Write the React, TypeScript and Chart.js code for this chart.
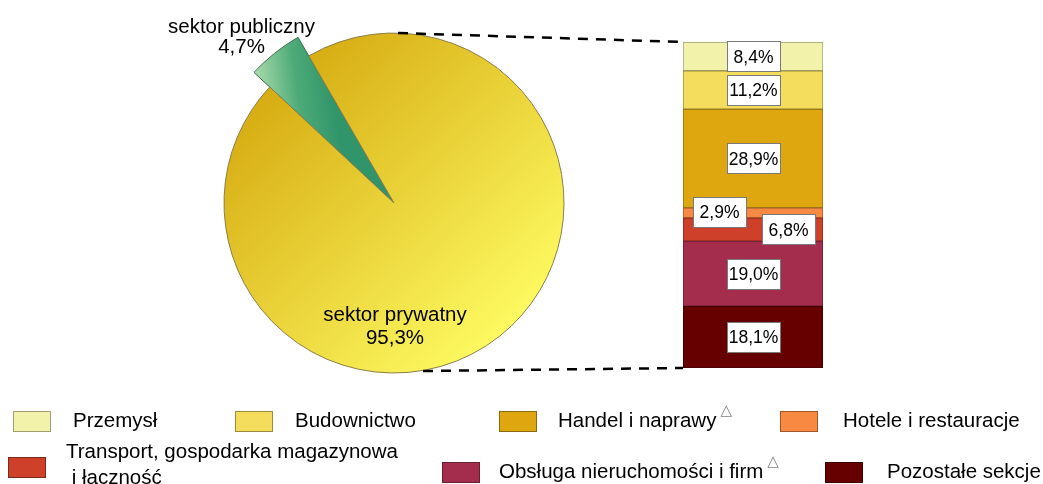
import React, { useEffect, useRef } from 'react';
import { Chart, registerables } from 'chart.js';

Chart.register(...registerables);

// ---------- data ----------
const SECTORS = ['sektor publiczny', 'sektor prywatny'];
const SECTOR_SHARES = [4.7, 95.3];

const CATEGORIES = [
  'Przemysł',
  'Budownictwo',
  'Handel i naprawy',
  'Hotele i restauracje',
  'Transport, gospodarka magazynowa\n i łączność',
  'Obsługa nieruchomości i firm',
  'Pozostałe sekcje',
];
const CATEGORY_SHARES = [8.4, 11.2, 28.9, 2.9, 6.8, 19.0, 18.1];
const CATEGORY_MARKED = [false, false, true, false, false, true, false];

// ---------- style ----------
const FONT = '"Liberation Sans", Arial, Helvetica, sans-serif';
const CATEGORY_COLORS = ['#F2F2AA', '#F4DC5C', '#DEA60F', '#F88942', '#CF402B', '#A42D4E', '#660000'];
const CATEGORY_BORDERS = ['#9E9E72', '#9C8A3A', '#8A6A10', '#A0582A', '#7A2A1A', '#6A1E32', '#3A0000'];
const LABEL_OFFSETS = [[0, 0], [0, 0], [0, 0], [-34, -1], [35, 0], [0, 0], [0, 0]];

const PIE_CX = 394;
const PIE_CY = 203;
const PIE_BOX = 384; // chart area size -> max radius ~191.5
const PRIVATE_R = 170;
const PIE_ROTATION = -47;
const PIE_CANVAS = { left: 150, top: 0, width: 500, height: 406 };
const PIE_PAD = {
  left: PIE_CX - PIE_BOX / 2 - PIE_CANVAS.left,
  top: PIE_CY - PIE_BOX / 2 - PIE_CANVAS.top,
  right: PIE_CANVAS.left + PIE_CANVAS.width - (PIE_CX + PIE_BOX / 2),
  bottom: PIE_CANVAS.top + PIE_CANVAS.height - (PIE_CY + PIE_BOX / 2),
};

const BAR_CANVAS = { left: 380, top: 0, width: 463, height: 390 };
const BAR_PAD = { left: 303, top: 42, right: 20, bottom: 22 };

const LEGEND_LAYOUT = [
  { sx: 13, sy: 411, tx: 73, ty: 410 },
  { sx: 235, sy: 411, tx: 295, ty: 410 },
  { sx: 499, sy: 411, tx: 558, ty: 410 },
  { sx: 780, sy: 411, tx: 843, ty: 410 },
  { sx: 8, sy: 457, tx: 66, ty: 438 },
  { sx: 442, sy: 462, tx: 499, ty: 461 },
  { sx: 825, sy: 462, tx: 887, ty: 461 },
];

const fmt = (v: number) => v.toFixed(1).replace('.', ',') + '%';

function pieCenter(chart: any) {
  const a = chart.chartArea;
  return { cx: (a.left + a.right) / 2, cy: (a.top + a.bottom) / 2 };
}

function yellowGradient(chart: any) {
  if (!chart.chartArea) return '#E8CC30';
  const { cx, cy } = pieCenter(chart);
  const g = chart.ctx.createLinearGradient(cx - 0.78 * PRIVATE_R, cy - 0.8 * PRIVATE_R, cx + 0.74 * PRIVATE_R, cy + 0.8 * PRIVATE_R);
  g.addColorStop(0, '#D4A80E');
  g.addColorStop(1, '#FFFD64');
  return g;
}

function greenGradient(chart: any) {
  if (!chart.chartArea) return '#4DAA78';
  const { cx, cy } = pieCenter(chart);
  const g = chart.ctx.createLinearGradient(cx - 139, cy - 100, cx - 60, cy - 110);
  g.addColorStop(0, '#B2DFB0');
  g.addColorStop(0.55, '#4DAA78');
  g.addColorStop(1, '#30956A');
  return g;
}

const pieRadiusPlugin = {
  id: 'pieRadius',
  afterDatasetsUpdate(chart: any) {
    const meta = chart.getDatasetMeta(0);
    const arc = meta.data[1];
    if (arc) arc.outerRadius = PRIVATE_R;
  },
};

const PIE_LABEL_POS = [
  [[-152.5, -170.5], [-152.5, -150]],
  [[1, 117.7], [1, 141]],
];

const pieLabelPlugin = {
  id: 'pieLabels',
  afterDatasetsDraw(chart: any) {
    const ctx = chart.ctx;
    const { cx, cy } = pieCenter(chart);
    ctx.save();
    ctx.font = `20.5px ${FONT}`;
    ctx.fillStyle = '#000';
    ctx.textAlign = 'center';
    ctx.textBaseline = 'alphabetic';
    SECTORS.forEach((name, i) => {
      const lines = [name, fmt(SECTOR_SHARES[i])];
      lines.forEach((t, j) => {
        const [dx, dy] = PIE_LABEL_POS[i][j];
        ctx.fillText(t, cx + dx, cy + dy);
      });
    });
    ctx.restore();
  },
};

const barLabelPlugin = {
  id: 'barLabels',
  afterDatasetsDraw(chart: any) {
    const ctx = chart.ctx;
    ctx.save();
    ctx.font = `17.5px ${FONT}`;
    ctx.textAlign = 'center';
    ctx.textBaseline = 'middle';
    chart.data.datasets.forEach((ds: any, di: number) => {
      const meta = chart.getDatasetMeta(di);
      const bar = meta.data[0];
      if (!bar) return;
      const catIndex = ds.catIndex;
      const [ox, oy] = LABEL_OFFSETS[catIndex];
      const x = bar.x + ox;
      const y = (bar.y + bar.base) / 2 + oy;
      const w = 53;
      const h = 30;
      ctx.fillStyle = '#fff';
      ctx.fillRect(Math.round(x - w / 2) + 0.5, Math.round(y - h / 2) + 0.5, w, h);
      ctx.strokeStyle = '#7a7a7a';
      ctx.lineWidth = 1;
      ctx.strokeRect(Math.round(x - w / 2) + 0.5, Math.round(y - h / 2) + 0.5, w, h);
      ctx.fillStyle = '#000';
      ctx.fillText(fmt(CATEGORY_SHARES[catIndex]), x + 0.5, y + 1.5);
    });
    ctx.restore();
  },
};

const connectorPlugin = {
  id: 'connector',
  afterDraw(chart: any) {
    const n = chart.data.datasets.length;
    const bottomBar = chart.getDatasetMeta(0).data[0];
    const topBar = chart.getDatasetMeta(n - 1).data[0];
    if (!bottomBar || !topBar) return;
    const left = bottomBar.x - bottomBar.width / 2;
    const ctx = chart.ctx;
    const ox = BAR_CANVAS.left;
    const oy = BAR_CANVAS.top;
    ctx.save();
    ctx.strokeStyle = '#000';
    ctx.lineWidth = 2.5;
    ctx.setLineDash([10, 8]);
    ctx.beginPath();
    ctx.moveTo(PIE_CX + 4 - ox, PIE_CY - PRIVATE_R - oy);
    ctx.lineTo(left, topBar.y);
    ctx.moveTo(PIE_CX + 29 - ox, PIE_CY + PRIVATE_R - 2 - oy);
    ctx.lineTo(left, bottomBar.base);
    ctx.stroke();
    ctx.restore();
  },
};

function PieChart() {
  const ref = useRef<HTMLCanvasElement>(null);
  useEffect(() => {
    const chart = new Chart(ref.current as HTMLCanvasElement, {
      type: 'pie',
      data: {
        labels: SECTORS,
        datasets: [
          {
            data: SECTOR_SHARES,
            backgroundColor: (c: any) => (c.dataIndex === 0 ? greenGradient(c.chart) : yellowGradient(c.chart)),
            borderColor: ['#3E6A50', '#8A7E48'],
            borderWidth: 1,
          },
        ],
      },
      options: {
        animation: false,
        responsive: true,
        maintainAspectRatio: false,
        rotation: PIE_ROTATION,
        layout: { padding: PIE_PAD },
        plugins: { legend: { display: false }, tooltip: { enabled: false } },
        events: [],
      },
      plugins: [pieRadiusPlugin, pieLabelPlugin],
    } as any);
    return () => chart.destroy();
  }, []);
  return (
    <div
      style={{
        position: 'absolute',
        left: PIE_CANVAS.left,
        top: PIE_CANVAS.top,
        width: PIE_CANVAS.width,
        height: PIE_CANVAS.height,
      }}
    >
      <canvas ref={ref} />
    </div>
  );
}

function BarChart() {
  const ref = useRef<HTMLCanvasElement>(null);
  useEffect(() => {
    const order = CATEGORIES.map((_, i) => i).reverse(); // bottom to top
    const total = CATEGORY_SHARES.reduce((a, b) => a + b, 0);
    const chart = new Chart(ref.current as HTMLCanvasElement, {
      type: 'bar',
      data: {
        labels: [''],
        datasets: order.map((i) => ({
          label: CATEGORIES[i],
          catIndex: i,
          data: [CATEGORY_SHARES[i]],
          backgroundColor: CATEGORY_COLORS[i],
          borderColor: CATEGORY_BORDERS[i],
          borderWidth: 1,
          borderSkipped: false,
          barPercentage: 1,
          categoryPercentage: 1,
        })),
      },
      options: {
        animation: false,
        responsive: true,
        maintainAspectRatio: false,
        layout: { padding: BAR_PAD },
        scales: {
          x: { stacked: true, display: false },
          y: { stacked: true, display: false, min: 0, max: total },
        },
        plugins: { legend: { display: false }, tooltip: { enabled: false } },
        events: [],
      },
      plugins: [barLabelPlugin, connectorPlugin],
    } as any);
    return () => chart.destroy();
  }, []);
  return (
    <div
      style={{
        position: 'absolute',
        left: BAR_CANVAS.left,
        top: BAR_CANVAS.top,
        width: BAR_CANVAS.width,
        height: BAR_CANVAS.height,
      }}
    >
      <canvas ref={ref} />
    </div>
  );
}

function Legend() {
  return (
    <>
      {CATEGORIES.map((name, i) => {
        const p = LEGEND_LAYOUT[i];
        const multi = name.includes('\n');
        return (
          <React.Fragment key={name}>
            <div
              style={{
                position: 'absolute',
                left: p.sx,
                top: p.sy,
                width: 38,
                height: 21,
                boxSizing: 'border-box',
                background: CATEGORY_COLORS[i],
                border: `1px solid ${CATEGORY_BORDERS[i]}`,
              }}
            />
            <div
              style={{
                position: 'absolute',
                left: p.tx,
                top: p.ty,
                fontFamily: FONT,
                fontSize: '20.5px',
                lineHeight: multi ? '26px' : '20px',
                color: '#000',
                whiteSpace: 'pre',
              }}
            >
              {name}
              {CATEGORY_MARKED[i] && (
                <span
                  style={{
                    position: 'relative',
                    top: -12,
                    marginLeft: 4,
                    fontFamily: '"DejaVu Sans", sans-serif',
                    fontSize: '15px',
                    color: '#808080',
                  }}
                >
                  △
                </span>
              )}
            </div>
          </React.Fragment>
        );
      })}
    </>
  );
}

export default function App() {
  return (
    <div
      style={{
        position: 'fixed',
        left: 0,
        top: 0,
        width: 1043,
        height: 484,
        overflow: 'hidden',
        background: '#fff',
      }}
    >
      <PieChart />
      <BarChart />
      <Legend />
    </div>
  );
}
